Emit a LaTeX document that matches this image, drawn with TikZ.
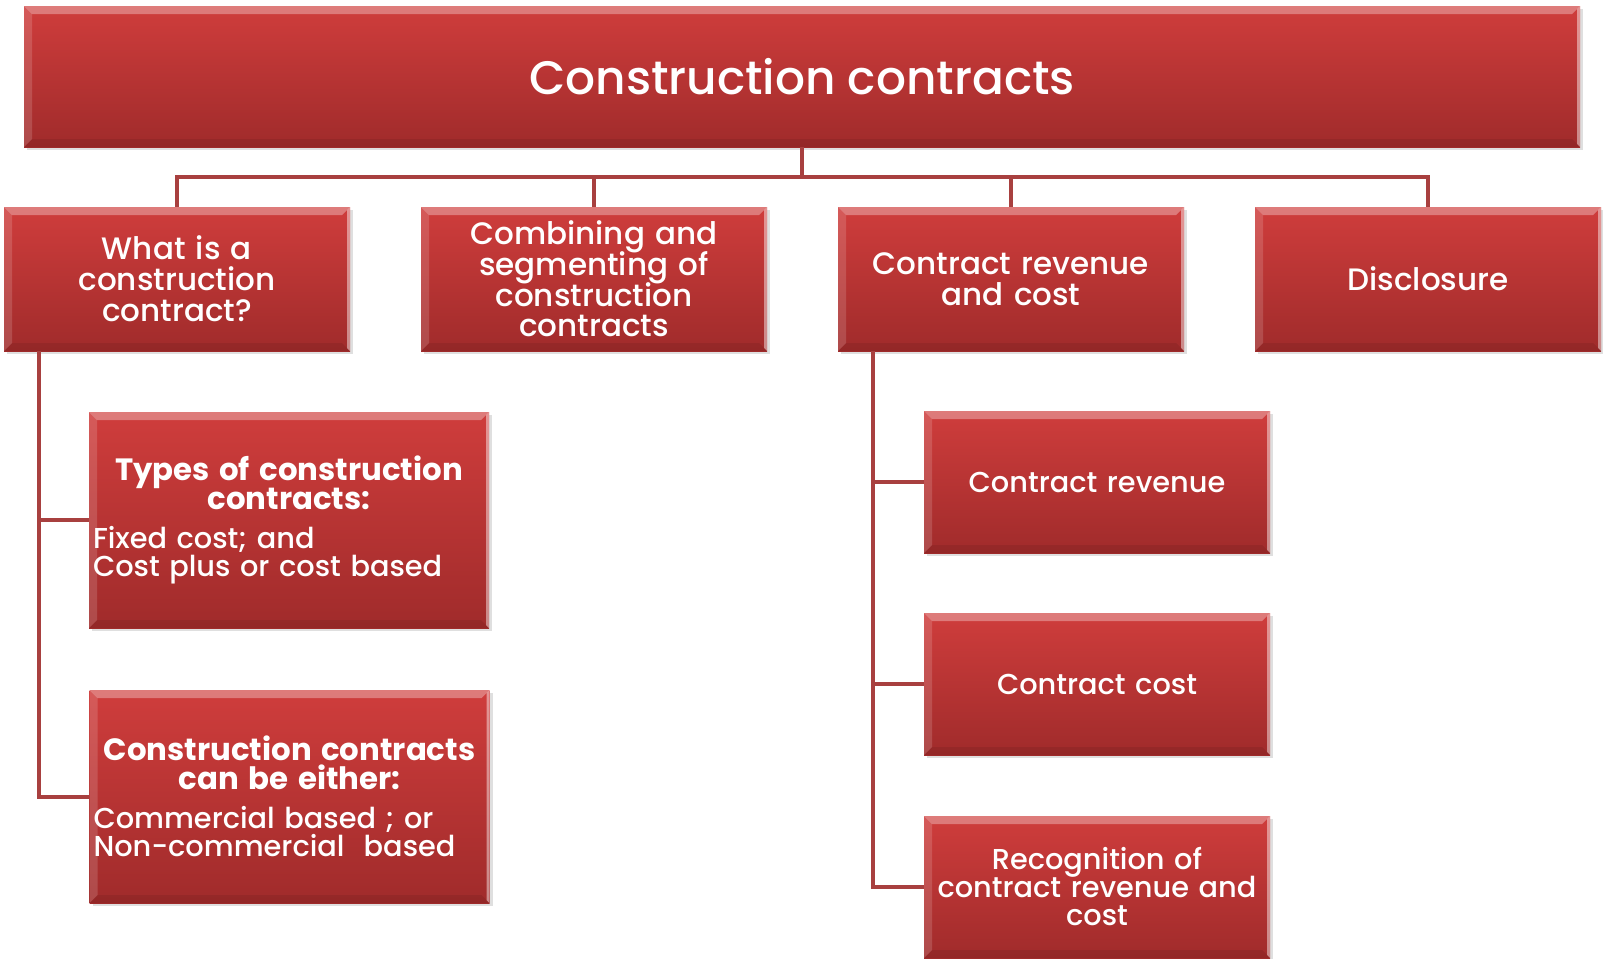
\documentclass[tikz,border=0pt]{standalone}
\usepackage{fontspec}
\setmainfont{Poppins}[UprightFont=* Medium, BoldFont=* Bold]
\usepackage{tikz}
\usetikzlibrary{shadows}
\usepackage{xcolor}

\definecolor{boxtop}{HTML}{CF3D3C}
\definecolor{boxbot}{HTML}{A02B2B}
\definecolor{linkred}{HTML}{A8403F}

\tikzset{
  bevel/.style={path picture={
    % light top and left rims, dark bottom rim
    \fill[white,opacity=.32] (path picture bounding box.north west) -- (path picture bounding box.north east)
      -- ([shift={(-4pt,-4pt)}]path picture bounding box.north east) -- ([shift={(4pt,-4pt)}]path picture bounding box.north west) -- cycle;
    \fill[white,opacity=.15] (path picture bounding box.north west) -- ([shift={(4pt,-4pt)}]path picture bounding box.north west)
      -- ([shift={(4pt,4pt)}]path picture bounding box.south west) -- (path picture bounding box.south west) -- cycle;
    \fill[white,opacity=.45] (path picture bounding box.north east) -- ([shift={(-1.5pt,-1.5pt)}]path picture bounding box.north east)
      -- ([shift={(-1.5pt,1.5pt)}]path picture bounding box.south east) -- (path picture bounding box.south east) -- cycle;
    \fill[black,opacity=.08] (path picture bounding box.south west) -- (path picture bounding box.south east)
      -- ([shift={(-4pt,4pt)}]path picture bounding box.south east) -- ([shift={(4pt,4pt)}]path picture bounding box.south west) -- cycle;
  }},
  redbox/.style={rectangle, top color=boxtop, bottom color=boxbot, text=white,
    drop shadow={shadow xshift=1.5pt, shadow yshift=-1.5pt, opacity=.25},
    bevel, inner sep=2pt, align=center,
    execute at begin node={\lineskiplimit=-6pt\relax}},
  mainbox/.style={redbox, minimum width=173pt, minimum height=72pt, text width=168pt,
    font=\fontsize{15.5}{15.4}\selectfont},
  subbox/.style={redbox, minimum width=173pt, minimum height=71pt, text width=168pt,
    font=\fontsize{14.4}{14}\selectfont},
  notebox/.style={redbox, minimum width=199pt, minimum height=108pt, text width=196pt,
    align=left, font=\fontsize{14.4}{14.3}\selectfont},
  link/.style={draw=linkred, line width=2pt}
}

\newcommand{\headline}[1]{{\centering\fontsize{15.4}{14.5}\selectfont\bfseries #1\par}\vspace{5pt}}

\begin{document}
\begin{tikzpicture}[x=0.5pt, y=-0.5pt]
  \useasboundingbox (0,0) rectangle (1603,959);

  % title
  \node[redbox, minimum width=778pt, minimum height=70.5pt,
        font=\fontsize{23.5}{28}\selectfont] (top) at (802,76.5) {Construction contracts};

  % second row
  \node[mainbox] (what) at (177,279) {What is a\\construction\\contract?};
  \node[mainbox] (comb) at (594,279) {Combining and\\segmenting of\\construction\\contracts};
  \node[mainbox] (crev) at (1011,279) {Contract revenue\\and cost};
  \node[mainbox] (disc) at (1428,279) {Disclosure};

  % under "what is"
  \node[notebox] (types) at (289,520)
    {\headline{Types of construction\\contracts:}Fixed cost; and\\Cost plus or cost based};
  \node[notebox, minimum height=106.5pt] (either) at (289.5,796.5)
    {\headline{Construction contracts\\can be either:}Commercial based ; or\\Non-commercial\ \ based};

  % under "contract revenue"
  \node[subbox] (rev) at (1097,482) {Contract revenue};
  \node[subbox] (cost) at (1097,684) {Contract cost};
  \node[subbox] (recog) at (1097,887) {Recognition of\\contract revenue and\\cost};

  % connectors
  \coordinate (bus) at (802,177);
  \draw[link] (top.south) -- (bus);
  \draw[link] (what.north) |- (bus) -| (disc.north);
  \draw[link] (comb.north) |- (bus);
  \draw[link] (crev.north) |- (bus);

  \draw[link] (what.south west) ++(35,0) |- (types.west);
  \draw[link] (what.south west) ++(35,0) |- (either.west);
  \draw[link] (crev.south west) ++(35,0) |- (rev.west);
  \draw[link] (crev.south west) ++(35,0) |- (cost.west);
  \draw[link] (crev.south west) ++(35,0) |- (recog.west);
\end{tikzpicture}
\end{document}
